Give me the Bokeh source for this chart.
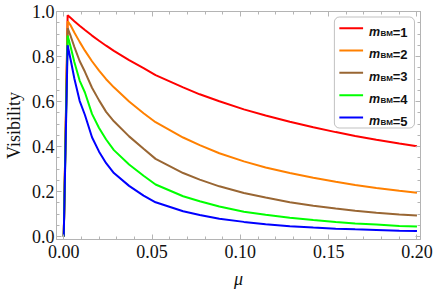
from bokeh.plotting import figure
from bokeh.models import (Range1d, LinearAxis, FixedTicker, PrintfTickFormatter,
                          CustomJSTickFormatter, BoxAnnotation, Label)
from bokeh.embed import file_html
from bokeh.resources import INLINE

# ---------------- data ----------------
mu = [0.0, 0.0022, 0.004, 0.006, 0.009, 0.012, 0.016, 0.020, 0.024, 0.0284, 0.037,
      0.0452, 0.052, 0.0676, 0.077, 0.0881, 0.102, 0.1143, 0.128, 0.1413, 0.154,
      0.165, 0.177, 0.19, 0.2]
vis_m1 = [0.0, 0.983, 0.971, 0.957, 0.937, 0.918, 0.893, 0.870, 0.848, 0.825, 0.784,
          0.748, 0.717, 0.663, 0.632, 0.601, 0.565, 0.538, 0.510, 0.486, 0.464,
          0.447, 0.430, 0.413, 0.401]
vis_m2 = [0.0, 0.957, 0.937, 0.907, 0.865, 0.826, 0.779, 0.737, 0.699, 0.663, 0.600,
          0.548, 0.508, 0.440, 0.406, 0.370, 0.334, 0.307, 0.282, 0.261, 0.243,
          0.229, 0.216, 0.203, 0.194]
vis_m3 = [0.0, 0.926, 0.889, 0.843, 0.780, 0.732, 0.661, 0.605, 0.554, 0.512, 0.445,
          0.390, 0.345, 0.282, 0.253, 0.223, 0.193, 0.173, 0.152, 0.137, 0.124,
          0.115, 0.106, 0.098, 0.093]
vis_m4 = [0.0, 0.893, 0.840, 0.776, 0.693, 0.640, 0.545, 0.482, 0.431, 0.384, 0.320,
          0.270, 0.231, 0.179, 0.157, 0.133, 0.110, 0.097, 0.083, 0.073, 0.064,
          0.058, 0.053, 0.047, 0.044]
vis_m5 = [0.0, 0.850, 0.782, 0.702, 0.603, 0.540, 0.441, 0.377, 0.326, 0.282, 0.225,
          0.182, 0.152, 0.112, 0.096, 0.079, 0.065, 0.055, 0.046, 0.040, 0.035,
          0.032, 0.029, 0.026, 0.024]
series_labels = ["1", "2", "3", "4", "5"]
x_ticks = [0.0, 0.05, 0.10, 0.15, 0.20]
x_minor = [0.01, 0.02, 0.03, 0.04, 0.06, 0.07, 0.08, 0.09, 0.11, 0.12, 0.13, 0.14,
           0.16, 0.17, 0.18, 0.19]
y_ticks = [0.0, 0.2, 0.4, 0.6, 0.8, 1.0]
y_minor = [0.05, 0.1, 0.15, 0.25, 0.3, 0.35, 0.45, 0.5, 0.55, 0.65, 0.7, 0.75,
           0.85, 0.9, 0.95]
x_title = "μ"
y_title = "Visibility"

series = [vis_m1, vis_m2, vis_m3, vis_m4, vis_m5]
colors = ["#ff0000", "#ff8000", "#996633", "#00ff00", "#0000ff"]

# ---------------- figure ----------------
X0, X1 = -0.0041, 0.202
Y0, Y1 = -0.0133, 1.0
p = figure(width=436, height=291, x_range=Range1d(X0, X1), y_range=Range1d(Y0, Y1),
           output_backend="svg", toolbar_location=None,
           min_border_left=52, min_border_right=16, min_border_top=11, min_border_bottom=52)
p.xgrid.visible = False
p.ygrid.visible = False
p.outline_line_color = "#b4b4b4"
p.background_fill_color = "white"
p.border_fill_color = "white"

FRAME = "#b4b4b4"
SERIF = "Liberation Serif"

def style_axis(ax, labels=True):
    ax.axis_line_color = FRAME
    ax.major_tick_line_color = FRAME
    ax.minor_tick_line_color = FRAME
    ax.major_tick_in = 5
    ax.major_tick_out = 0
    ax.minor_tick_in = 3
    ax.minor_tick_out = 0
    if labels:
        ax.major_label_text_font = SERIF
        ax.major_label_text_font_size = "18px"
        ax.major_label_text_color = "#111111"
    else:
        ax.formatter = CustomJSTickFormatter(code="return ''")
        ax.major_label_text_font_size = "6px"
        ax.major_label_standoff = 0

xb = p.xaxis[0]
xb.ticker = FixedTicker(ticks=x_ticks, minor_ticks=x_minor)
xb.formatter = PrintfTickFormatter(format="%.2f")
style_axis(xb)
xb.major_label_standoff = 5
xb.axis_label = x_title
xb.axis_label_text_font = SERIF
xb.axis_label_text_font_style = "italic"
xb.axis_label_text_font_size = "18px"
xb.axis_label_text_color = "#111111"
xb.axis_label_standoff = 8

yl = p.yaxis[0]
yl.ticker = FixedTicker(ticks=y_ticks, minor_ticks=y_minor)
yl.formatter = PrintfTickFormatter(format="%.1f")
style_axis(yl)
yl.major_label_standoff = 2
yl.axis_label = y_title
yl.axis_label_text_font = SERIF
yl.axis_label_text_font_style = "normal"
yl.axis_label_text_font_size = "18px"
yl.axis_label_text_color = "#111111"
yl.axis_label_standoff = 5

xt = LinearAxis(ticker=FixedTicker(ticks=x_ticks, minor_ticks=x_minor))
style_axis(xt, labels=False)
p.add_layout(xt, "above")
yr = LinearAxis(ticker=FixedTicker(ticks=y_ticks, minor_ticks=y_minor))
style_axis(yr, labels=False)
p.add_layout(yr, "right")

for vals, c in zip(series, colors):
    p.line(mu, vals, line_color=c, line_width=2)

# ---------------- manual legend (reference pixel layout converted to data) ----------------
PX_X = 1786.0   # pixels per data unit in x
PX_Y = 225.0    # pixels per data unit in y
OX, OY = 59.3, 236.0  # reference px of data origin

def dx(px):
    return (px - OX) / PX_X

def dy(py):
    return (OY - py) / PX_Y

p.add_layout(BoxAnnotation(left=dx(333), right=dx(414), top=dy(16.5), bottom=dy(127.5),
                           fill_color="white", fill_alpha=1.0, line_color="#333333",
                           line_width=1, border_radius=5))
row_y = [27.7, 50.0, 72.3, 94.7, 117.0]
SANS = "Liberation Sans"
for ry, c, lab in zip(row_y, colors, series_labels):
    p.add_layout(BoxAnnotation(left=dx(338), right=dx(362), top=dy(ry - 1.0), bottom=dy(ry + 1.0),
                               fill_color=c, fill_alpha=1.0, line_alpha=0))
    p.add_layout(Label(x=dx(368), y=dy(ry + 3.8), text="m", text_font=SANS,
                       text_font_style="bold italic", text_font_size="12.5px",
                       text_color="#111111", text_baseline="alphabetic"))
    p.add_layout(Label(x=dx(379.5), y=dy(ry + 5.2), text="BM", text_font=SANS,
                       text_font_style="bold", text_font_size="8px",
                       text_color="#111111", text_baseline="alphabetic"))
    p.add_layout(Label(x=dx(392), y=dy(ry + 3.8), text="=" + lab, text_font=SANS,
                       text_font_style="bold", text_font_size="13px",
                       text_color="#111111", text_baseline="alphabetic"))

open("out.html", "w").write(file_html(p, INLINE))
